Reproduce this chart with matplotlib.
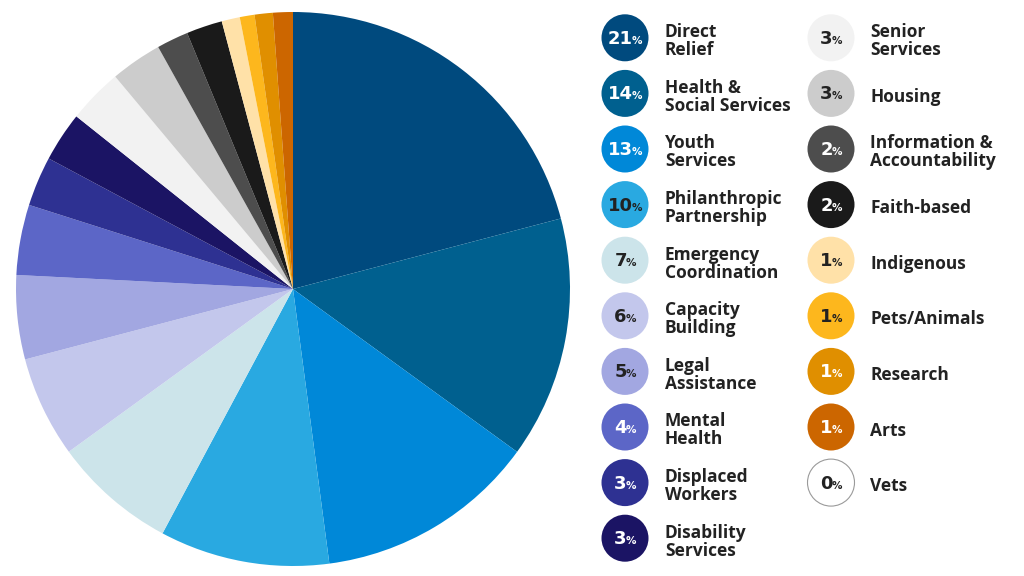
import matplotlib
matplotlib.use("Agg")
import matplotlib.pyplot as plt
from matplotlib.patches import Circle

# ---- data ----
categories = [
    "Direct\nRelief", "Health &\nSocial Services", "Youth\nServices",
    "Philanthropic\nPartnership", "Emergency\nCoordination", "Capacity\nBuilding",
    "Legal\nAssistance", "Mental\nHealth", "Displaced\nWorkers",
    "Disability\nServices", "Senior\nServices", "Housing",
    "Information &\nAccountability", "Faith-based", "Indigenous",
    "Pets/Animals", "Research", "Arts", "Vets",
]
shares = [20.9, 14.1, 12.9, 9.9, 7.2, 5.9, 4.9, 4.1, 2.9, 2.9,
          3.2, 3.0, 1.85, 2.1, 1.06, 0.86, 1.06, 1.16, 0.0]
pct_labels = [21, 14, 13, 10, 7, 6, 5, 4, 3, 3, 3, 3, 2, 2, 1, 1, 1, 1, 0]
colors = [
    "#004A7E", "#00608F", "#0088D8", "#29A9E1", "#CCE4EA", "#C3C7EC",
    "#A2A7E1", "#5C66C7", "#2E3192", "#1B1464", "#F2F2F2", "#CCCCCC",
    "#4D4D4D", "#1A1A1A", "#FFE1A8", "#FDB71D", "#E08F00", "#CC6600",
    "#FFFFFF",
]
num_colors = [
    "white", "white", "white", "#222222", "#222222", "#222222",
    "#222222", "white", "white", "white", "#222222", "#222222",
    "white", "white", "#222222", "#222222", "white", "white", "#222222",
]

W, H = 1024, 576
fig = plt.figure(figsize=(W / 100, H / 100), dpi=100)
fig.patch.set_facecolor("white")

# ---- pie ----
cx, cy, R = 293, 289, 277
ax = fig.add_axes([(cx - R) / W, (H - cy - R) / H, 2 * R / W, 2 * R / H])
ax.pie(shares, colors=colors, startangle=90, counterclock=False,
       radius=1.0, wedgeprops=dict(linewidth=0))
ax.set_xlim(-1, 1)
ax.set_ylim(-1, 1)
ax.set_aspect("auto")
ax.axis("off")

# ---- legend ----
lg = fig.add_axes([0, 0, 1, 1])
lg.set_xlim(0, W)
lg.set_ylim(H, 0)
lg.axis("off")

label_font = dict(family=["Open Sans", "DejaVu Sans"], weight="bold", size=12.5, color="#222222")
num_font = dict(family=["DejaVu Sans"], weight="bold", size=13)
pct_font = dict(family=["DejaVu Sans"], weight="bold", size=7.5)

col_x = [625, 831]
text_x = [665, 870]
row0, dy, rad = 37.8, 55.6, 23.5
fig.canvas.draw()
renderer = fig.canvas.get_renderer()

for i, (lab, pct, c, nc) in enumerate(zip(categories, pct_labels, colors, num_colors)):
    col = 0 if i < 10 else 1
    row = i if i < 10 else i - 10
    x0 = col_x[col]
    y0 = row0 + row * dy
    ec = "#9A9A9A" if c.upper() == "#FFFFFF" else c
    lg.add_patch(Circle((x0, y0), rad, facecolor=c, edgecolor=ec,
                        linewidth=0.8 if ec != c else 0))
    # number + % centred in circle
    t1 = lg.text(x0, y0 + 6, str(pct), ha="left", va="baseline", color=nc, **num_font)
    t2 = lg.text(x0, y0 + 6, "%", ha="left", va="baseline", color=nc, **pct_font)
    w1 = t1.get_window_extent(renderer).width
    w2 = t2.get_window_extent(renderer).width
    gap = -1.5
    total = w1 + gap + w2
    t1.set_x(x0 - total / 2)
    t2.set_x(x0 - total / 2 + w1 + gap)
    lines = lab.split("\n")
    if len(lines) == 1:
        lg.text(text_x[col], y0 + 8.5, lines[0], ha="left", va="baseline", **label_font)
    else:
        lg.text(text_x[col], y0 - 0.5, lines[0], ha="left", va="baseline", **label_font)
        lg.text(text_x[col], y0 + 17.5, lines[1], ha="left", va="baseline", **label_font)

fig.savefig("out.png", dpi=100, facecolor="white")
